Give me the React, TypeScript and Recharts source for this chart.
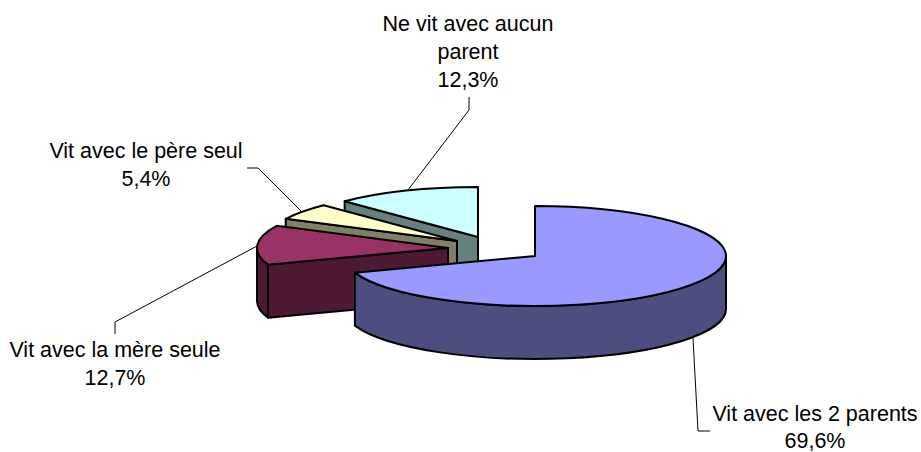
import React from "react";
import { PieChart, Pie } from "recharts";

// Drawn back to front, so the front slice paints last.
const categories = ["Ne vit avec aucun parent", "Vit avec le père seul", "Vit avec la mère seule", "Vit avec les 2 parents"];
const values = [12.3, 5.4, 12.7, 69.6];
const valueTexts = ["12,3%", "5,4%", "12,7%", "69,6%"];

const topColors = ["#CCFFFF", "#FFFFCC", "#993366", "#9999FF"];
const sideColors = ["#668080", "#808066", "#4D1933", "#4D4D80"];

const W = 921;
const H = 452;
const CX = 500;
const CY = 240;
const RX = 191;
const SQUASH = 50 / 191;
const DEPTH = 53;
const explode: [number, number][] = [[-22, -3], [-43, 1], [-52, 8], [35, 16]];

const labelLines: string[][] = [["Ne vit avec aucun", "parent"], ["Vit avec le père seul"], ["Vit avec la mère seule"], ["Vit avec les 2 parents"]];
const labelAnchors: [number, number][] = [[468, 31], [146, 158], [115, 357], [815, 421]];
const labelLeading = [27.8, 27.8, 27.8, 26.5];
const leaders: string[] = [
  "469,97 469,110 408,190",
  "247,168 258,168 302,212",
  "257,246 115,322 115,334",
  "693,338 698,431 710,431",
];

const rad = (d: number) => (d * Math.PI) / 180;

function SliceShape(props: any) {
  const { cx, cy, startAngle, endAngle, index } = props;
  const ox = cx + explode[index][0];
  const oy = cy + explode[index][1];
  const rx = props.outerRadius;
  const ry = rx * SQUASH;
  const a0 = 90 - endAngle + 360; // clockwise from the top
  const a1 = 90 - startAngle + 360;
  const pt = (a: number, dy = 0) => `${ox + rx * Math.sin(rad(a))} ${oy - ry * Math.cos(rad(a)) + dy}`;
  const arc = (from: number, to: number, dy = 0) => {
    const large = Math.abs(to - from) > 180 ? 1 : 0;
    const sweep = to > from ? 1 : 0;
    return `A ${rx} ${ry} 0 ${large} ${sweep} ${pt(to, dy)}`;
  };
  const stroke = { stroke: "#000", strokeWidth: 2, strokeLinejoin: "round" as const };
  const wallFrom = Math.max(a0, 90);
  const wallTo = Math.min(a1, 270);
  const showStartFace = Math.sin(rad(a0)) < -1e-6;
  return (
    <g>
      {showStartFace && (
        <path
          d={`M ${ox} ${oy} L ${pt(a0)} L ${pt(a0, DEPTH)} L ${ox} ${oy + DEPTH} Z`}
          fill={sideColors[index]}
          {...stroke}
        />
      )}
      {wallTo > wallFrom && (
        <path
          d={`M ${pt(wallFrom)} ${arc(wallFrom, wallTo)} L ${pt(wallTo, DEPTH)} ${arc(wallTo, wallFrom, DEPTH)} Z`}
          fill={sideColors[index]}
          {...stroke}
        />
      )}
      <path d={`M ${ox} ${oy} L ${pt(a0)} ${arc(a0, a1)} Z`} fill={topColors[index]} {...stroke} />
    </g>
  );
}

function SliceLabel(props: any) {
  const { index } = props;
  const [x, y] = labelAnchors[index];
  const lines = [...labelLines[index], valueTexts[index]];
  return (
    <g>
      <polyline points={leaders[index]} fill="none" stroke="#000" strokeWidth={1} />
      <text x={x} y={y} textAnchor="middle" fontFamily="'Liberation Sans', Arial, sans-serif" fontSize={21.5} fill="#000">
        {lines.map((line, i) => (
          <tspan key={i} x={x} dy={i === 0 ? 0 : labelLeading[index]}>
            {line}
          </tspan>
        ))}
      </text>
    </g>
  );
}

const rows = categories.map((name, i) => ({ name, value: values[i] }));

export default function App() {
  return (
    <div style={{ position: "absolute", left: 0, top: 0, width: W, height: H, background: "#fff" }}>
      <PieChart width={W} height={H} margin={{ top: 0, right: 0, bottom: 0, left: 0 }}>
        <Pie
          data={rows}
          dataKey="value"
          nameKey="name"
          cx={CX}
          cy={CY}
          innerRadius={0}
          outerRadius={RX}
          startAngle={90}
          endAngle={450}
          paddingAngle={0}
          stroke="none"
          shape={SliceShape}
          label={SliceLabel}
          labelLine={false}
          isAnimationActive={false}
        />
      </PieChart>
    </div>
  );
}
